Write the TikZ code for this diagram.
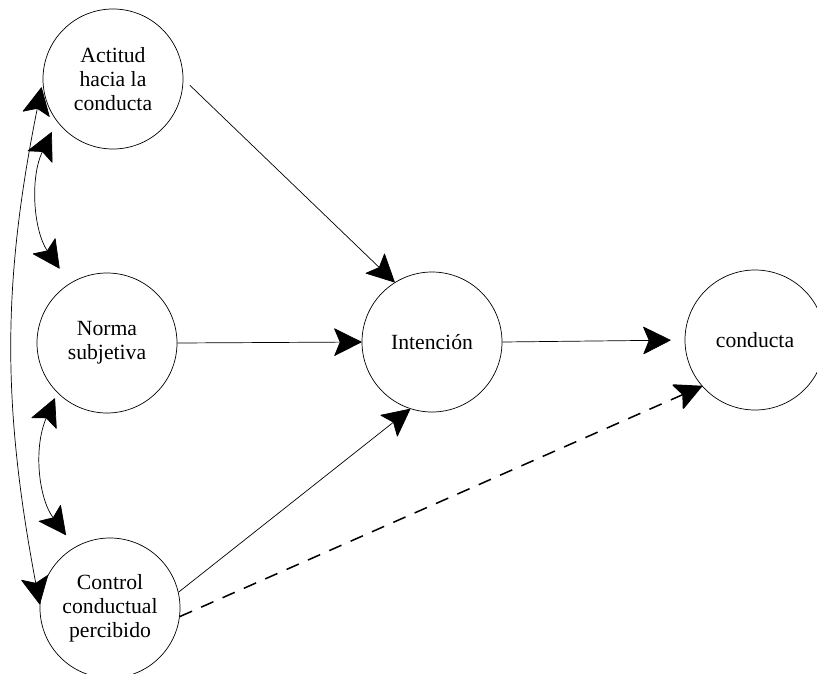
\documentclass[tikz,border=0pt]{standalone}
\usepackage{fontspec}
\setmainfont{Liberation Serif}
\usetikzlibrary{arrows.meta}

\begin{document}
\begin{tikzpicture}[x=0.03cm,y=-0.03cm,
    estado/.style={circle,draw,line width=0.6pt,minimum size=4.2cm,inner sep=0pt,align=center,
      font=\fontsize{18.5}{20.5}\selectfont},
    punta/.tip={Stealth[length=24pt,width=24pt,inset=5pt,round]},
    flecha/.style={line width=0.6pt,-punta},
    dobleflecha/.style={line width=0.6pt,punta-punta}]
        \useasboundingbox (0,0) rectangle (817,673);
        \node[estado] (act) at (113,79) {Actitud\\hacia la\\conducta};
        \node[estado] (norm) at (107,343) {Norma\\subjetiva};
        \node[estado] (ctrl) at (110,608) {Control\\conductual\\percibido};
        \node[estado] (int) at (432,342) {Intención};
        \node[estado] (cond) at (755,340) {conducta};
        \draw[flecha, shorten <=0.27cm] (act.east) -- (int.122);
        \draw[flecha] (norm.east) -- (int.west);
        \draw[flecha] (ctrl.13) -- (int.252);
        \draw[flecha, shorten >=0.42cm] (int.east) -- (cond.west);
        \draw[flecha, line width=1.3pt, dash pattern=on 0.4cm off 0.3cm] (ctrl.-7) -- (cond.221);
        \draw[dobleflecha, shorten <=0.18cm] (act.182) to[bend right=11] (ctrl.177);
        \draw[dobleflecha, shorten <=0.36cm, shorten >=0.54cm] (act.217) to[bend right=30] (norm.122);
        \draw[dobleflecha, shorten <=0.18cm, shorten >=0.45cm] (norm.225) to[bend right=30] (ctrl.120);
\end{tikzpicture}
\end{document}
